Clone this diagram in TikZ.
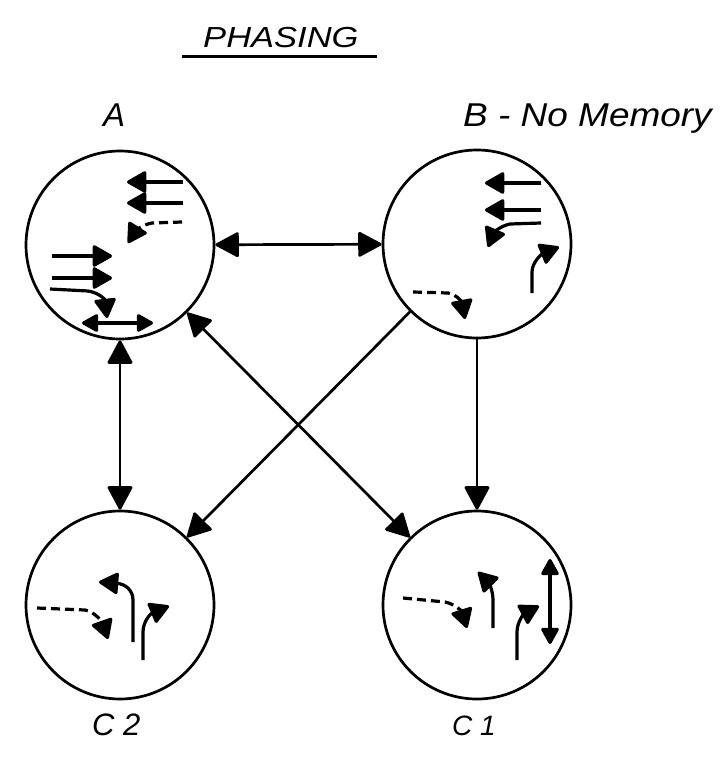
\documentclass[tikz,border=0pt]{standalone}
\usepackage{fontspec}
\setmainfont{Liberation Sans}
\usetikzlibrary{arrows.meta}
\begin{document}
\begin{tikzpicture}[x=1pt,y=-1pt,
  circ/.style={circle,draw,line width=2.7pt,minimum size=188pt,inner sep=0pt},
  bigtip/.tip={Triangle[length=25pt,width=26pt,round]},
  smalltip/.tip={Triangle[length=21pt,width=23pt,round]},
  conn/.style={line width=2.7pt,bigtip-bigtip},
  connone/.style={line width=2.7pt,-bigtip},
  sym/.style={line width=3.2pt,-smalltip},
  symboth/.style={line width=3.2pt,{Triangle[length=18pt,width=19pt,round]}-{Triangle[length=18pt,width=19pt,round]}},
  dsh/.style={dash pattern=on 9pt off 5pt},
  lbl/.style={inner sep=0pt,anchor=base west,font=\fontsize{33}{36}\selectfont\itshape},
]
\useasboundingbox (0,0) rectangle (726,762);

% title
\node[lbl,font=\fontsize{29}{32}\selectfont\itshape,xscale=1.19] (title) at (203,48) {PHASING};
\draw[line width=3pt] (182,57) -- (377,57);

% labels
\node[lbl] (labA) at (103,127) {A};
\node[lbl,xscale=1.12] (labB) at (463,127) {B - No Memory};
\node[lbl,font=\fontsize{31}{34}\selectfont\itshape] (labC2) at (92,735) {C 2};
\node[lbl,font=\fontsize{28}{31}\selectfont\itshape] (labC1) at (452,735) {C 1};

% circles
\node[circ] (A) at (120,245) {};
\node[circ] (B) at (477,244) {};
\node[circ] (C2) at (120,605) {};
\node[circ] (C1) at (477,605) {};

% connectors
\draw[conn] (A) -- (B);
\draw[conn] (A) -- (C2);
\draw[conn] (A) -- (C1);
\draw[connone] (B) -- (C2);
\draw[connone] (B) -- (C1);

% symbols in A
\draw[sym] (183,182) -- (127,182);
\draw[sym] (183,203) -- (127,203);
\draw[sym,dsh] (182,222) -- (152,223) .. controls (141,225) and (135,232) .. (128,243);
\draw[sym] (52,256) -- (112,256);
\draw[sym] (52,278) -- (112,278);
\draw[sym] (50,289) -- (88,291) .. controls (100,293) and (105,300) .. (107,318);
\draw[symboth] (82,323) -- (153,323);

% symbols in B
\draw[sym] (541,183) -- (485,183);
\draw[sym] (541,210) -- (485,210);
\draw[sym] (541,223) -- (510,224) .. controls (500,226) and (494,233) .. (488,247);
\draw[sym] (532,293) -- (532,272) .. controls (532,262) and (542,254) .. (559,247);
\draw[sym,dsh] (413,292) -- (448,293) .. controls (458,295) and (462,303) .. (465,319);

% symbols in C2
\draw[sym] (133,642) -- (133,600) .. controls (133,590) and (125,584) .. (99,582);
\draw[sym] (143,660) -- (143,632) .. controls (143,622) and (150,614) .. (169,606);
\draw[sym,dsh] (37,608) -- (85,610) .. controls (95,612) and (102,622) .. (108,639);

% symbols in C1
\draw[sym,dsh] (403,598) -- (445,602) .. controls (455,604) and (462,612) .. (467,628);
\draw[sym] (493,628) -- (493,600) .. controls (493,590) and (488,582) .. (478,572);
\draw[sym] (517,660) -- (517,632) .. controls (517,622) and (524,614) .. (539,606);
\draw[symboth] (550,559) -- (550,644);
\end{tikzpicture}
\end{document}
